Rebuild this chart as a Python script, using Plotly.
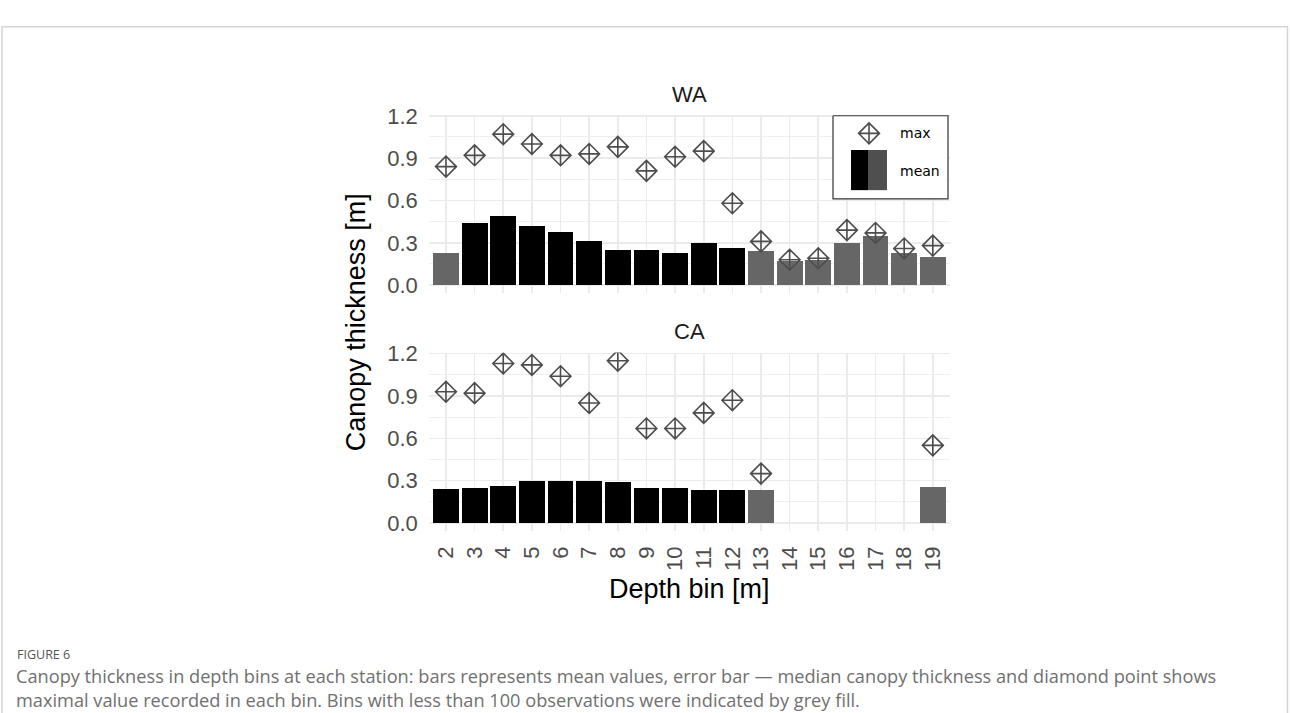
import plotly.graph_objects as go

# ---------------- data ----------------
depth_bins = list(range(2, 20))
tick_labels = [str(d) for d in depth_bins]

wa_mean = [0.23, 0.44, 0.49, 0.42, 0.38, 0.31, 0.25, 0.25, 0.23, 0.30,
           0.26, 0.24, 0.17, 0.18, 0.30, 0.35, 0.23, 0.20]
wa_max = [0.84, 0.92, 1.07, 1.00, 0.92, 0.93, 0.98, 0.81, 0.91, 0.95,
          0.58, 0.31, 0.18, 0.19, 0.39, 0.37, 0.26, 0.28]
wa_low_n = [True, False, False, False, False, False, False, False, False, False,
            False, True, True, True, True, True, True, True]

ca_bins = [2, 3, 4, 5, 6, 7, 8, 9, 10, 11, 12, 13, 19]
ca_mean = [0.24, 0.25, 0.26, 0.30, 0.30, 0.30, 0.29, 0.25, 0.245, 0.235,
           0.235, 0.235, 0.255]
ca_max = [0.93, 0.92, 1.13, 1.12, 1.04, 0.85, 1.15, 0.67, 0.67, 0.78,
          0.87, 0.35, 0.55]
ca_low_n = [False, False, False, False, False, False, False, False, False, False,
            False, True, True]

y_ticks = [0.0, 0.3, 0.6, 0.9, 1.2]
y_minor = [0.15, 0.45, 0.75, 1.05]
y_tick_text = ["0.0", "0.3", "0.6", "0.9", "1.2"]

caption_title = "FIGURE 6"
caption_lines = [
    "Canopy thickness in depth bins at each station: bars represents mean values, error bar \u2014 median canopy thickness and diamond point shows",
    "maximal value recorded in each bin. Bins with less than 100 observations were indicated by grey fill.",
]

# ---------------- style ----------------
W, H = 1290, 713
FONT = "Liberation Sans, Arial, Helvetica, sans-serif"
BLACK = "#000000"
GREY = "#666666"
MARK = "#4D4D4D"
GRID = "#EBEBEB"


def px(x):
    return x / W


def py(y):
    return 1 - y / H


def colors(flags):
    return [GREY if f else BLACK for f in flags]


x_dom = [px(428.8), px(950)]
top_dom = [py(288.3), py(106)]
bot_dom = [py(531.3), py(348.9)]
y_range = [-0.0575, 1.2075]
x_range = [1.4, 19.6]

fig = go.Figure()

# WA panel
fig.add_trace(go.Bar(x=depth_bins, y=wa_mean, width=0.9,
                     marker=dict(color=colors(wa_low_n), line=dict(width=0)),
                     xaxis="x", yaxis="y", showlegend=False))
fig.add_trace(go.Scatter(x=depth_bins, y=wa_max, mode="markers",
                         marker=dict(symbol="diamond-cross-open", size=16, color=MARK,
                                     line=dict(width=1.6, color=MARK)),
                         xaxis="x", yaxis="y", showlegend=False))
# CA panel
fig.add_trace(go.Bar(x=ca_bins, y=ca_mean, width=0.9,
                     marker=dict(color=colors(ca_low_n), line=dict(width=0)),
                     xaxis="x2", yaxis="y2", showlegend=False))
fig.add_trace(go.Scatter(x=ca_bins, y=ca_max, mode="markers",
                         marker=dict(symbol="diamond-cross-open", size=16, color=MARK,
                                     line=dict(width=1.6, color=MARK)),
                         xaxis="x2", yaxis="y2", showlegend=False))

# ---------------- manual legend on a pixel overlay axis ----------------
LB = dict(x0=833, x1=948, y0=107, y1=192)
fig.add_trace(go.Scatter(x=[LB["x0"], LB["x1"], LB["x1"], LB["x0"], LB["x0"]],
                         y=[LB["y0"], LB["y0"], LB["y1"], LB["y1"], LB["y0"]],
                         mode="lines", fill="toself", fillcolor="white",
                         line=dict(color="#333333", width=1.2),
                         xaxis="x3", yaxis="y3", showlegend=False, hoverinfo="skip"))
fig.add_trace(go.Scatter(x=[869], y=[125], mode="markers",
                         marker=dict(symbol="diamond-cross-open", size=16, color=MARK,
                                     line=dict(width=1.6, color=MARK)),
                         xaxis="x3", yaxis="y3", showlegend=False, hoverinfo="skip"))

shapes = [
    dict(type="rect", xref="x3", yref="y3", x0=851, x1=868, y0=142, y1=183,
         fillcolor=BLACK, line=dict(width=0), layer="above"),
    dict(type="rect", xref="x3", yref="y3", x0=868, x1=887, y0=142, y1=183,
         fillcolor="#4F4F4F", line=dict(width=0), layer="above"),
    # outer frame of the figure page
    dict(type="rect", xref="paper", yref="paper", x0=px(2), x1=px(1287.5),
         y0=-0.1, y1=py(16), line=dict(color="#D4D4D4", width=1.5),
         fillcolor="rgba(0,0,0,0)", layer="above"),
]

annotations = [
    dict(text="max", x=px(898), y=py(125), xref="paper", yref="paper",
         xanchor="left", yanchor="middle", showarrow=False,
         font=dict(family="DejaVu Sans, sans-serif", size=14, color="#000000")),
    dict(text="mean", x=px(898), y=py(163), xref="paper", yref="paper",
         xanchor="left", yanchor="middle", showarrow=False,
         font=dict(family="DejaVu Sans, sans-serif", size=14, color="#000000")),
    dict(text="WA", x=px(689), y=py(85), xref="paper", yref="paper",
         xanchor="center", yanchor="middle", showarrow=False,
         font=dict(family=FONT, size=22, color="#1A1A1A")),
    dict(text="CA", x=px(689), y=py(327), xref="paper", yref="paper",
         xanchor="center", yanchor="middle", showarrow=False,
         font=dict(family=FONT, size=22, color="#1A1A1A")),
    dict(text="Canopy thickness [m]", x=px(356), y=py(318), xref="paper", yref="paper",
         xanchor="center", yanchor="middle", showarrow=False, textangle=-90,
         font=dict(family=FONT, size=27, color="#000000")),
    dict(text="Depth bin [m]", x=px(689), y=py(590), xref="paper", yref="paper",
         xanchor="center", yanchor="middle", showarrow=False,
         font=dict(family=FONT, size=27, color="#000000")),
    dict(text=caption_title, x=px(15), y=py(657), xref="paper", yref="paper",
         xanchor="left", yanchor="middle", showarrow=False,
         font=dict(family="Open Sans, sans-serif", size=12.5, color="#555555")),
    dict(text="<br>".join(caption_lines), x=px(14), y=py(691.5), xref="paper", yref="paper",
         xanchor="left", yanchor="middle", align="left", showarrow=False,
         font=dict(family="Open Sans, sans-serif", size=18.2, color="#707070")),
]

yaxis_common = dict(range=y_range, tickmode="array", tickvals=y_ticks, ticktext=y_tick_text,
                    showgrid=True, gridcolor=GRID, gridwidth=1.6, zeroline=False,
                    showline=False, ticks="", ticklabelstandoff=10,
                    tickfont=dict(family=FONT, size=22, color=MARK),
                    minor=dict(tickmode="array", tickvals=y_minor, showgrid=True,
                               gridcolor=GRID, gridwidth=0.8, ticks=""),
                    fixedrange=True)
xaxis_common = dict(range=x_range, tickmode="array", tickvals=depth_bins, ticktext=tick_labels,
                    showgrid=True, gridcolor=GRID, gridwidth=1.6, zeroline=False,
                    showline=False, ticks="", fixedrange=True,
                    tickfont=dict(family=FONT, size=22, color=MARK))

fig.update_layout(
    width=W, height=H,
    margin=dict(l=0, r=0, t=0, b=0, pad=0),
    paper_bgcolor="white", plot_bgcolor="rgba(0,0,0,0)",
    showlegend=False, bargap=0,
    xaxis=dict(domain=x_dom, anchor="y", showticklabels=False, **xaxis_common),
    yaxis=dict(domain=top_dom, anchor="x", **yaxis_common),
    xaxis2=dict(domain=x_dom, anchor="y2", showticklabels=True, tickangle=-90,
                ticklabelstandoff=10, **xaxis_common),
    yaxis2=dict(domain=bot_dom, anchor="x2", **yaxis_common),
    xaxis3=dict(domain=[0, 1], range=[0, W], visible=False, anchor="y3", fixedrange=True),
    yaxis3=dict(domain=[0, 1], range=[H, 0], visible=False, anchor="x3", fixedrange=True),
    shapes=shapes,
    annotations=annotations,
)

fig.write_html("out.html", config={"displayModeBar": False, "staticPlot": True})
